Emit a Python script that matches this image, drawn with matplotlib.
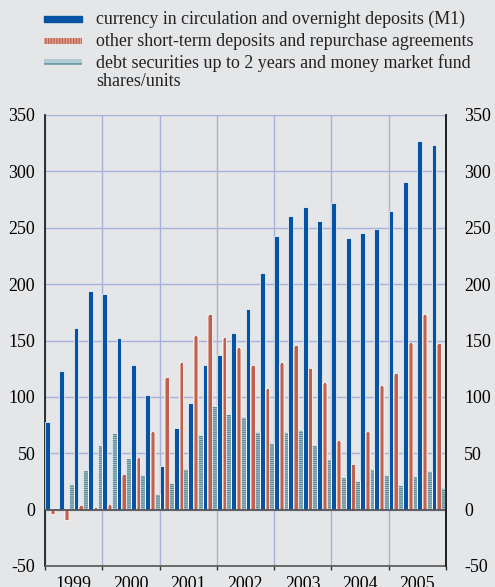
import numpy as np
import matplotlib
matplotlib.use("Agg")
from matplotlib import pyplot as plt
from matplotlib.patches import Rectangle

# === DATA (annual flows, quarterly, EUR billions) ===
YEARS = ["1999", "2000", "2001", "2002", "2003", "2004", "2005"]
M1 = [78, 123, 161, 194, 191, 152, 128, 102, 39, 72, 95, 128, 137, 157,
      178, 210, 243, 260, 268, 256, 272, 241, 245, 249, 265, 291, 327, 323]
OTHER_ST = [-4, -9, 3, 1, 4, 31, 46, 69, 117, 130, 154, 173, 152, 143,
            127, 107, 130, 145, 125, 112, 61, 40, 69, 110, 120, 148, 173, 147]
DEBT_MMF = [0, 23, 35, 57, 68, 46, 31, 14, 24, 36, 66, 92, 85, 82,
            69, 59, 69, 71, 57, 45, 29, 25, 36, 31, 22, 30, 34, 19]
LABELS = ["currency in circulation and overnight deposits (M1)",
          "other short-term deposits and repurchase agreements",
          "debt securities up to 2 years and money market fund\nshares/units"]

# === STYLE ===
BG = "#e5e6e8"
BLUE = "#0652a3"
PINK_LIGHT = "#dea091"
PINK_DARK = "#c0604f"
TEAL_LIGHT = "#b3ccd3"
TEAL_DARK = "#5a8a99"
GRID = "#a7b1d9"
FONT = "Liberation Serif"
FS = 12.9
W, H = 495, 587

plt.rcParams['font.family'] = FONT
plt.rcParams['axes.unicode_minus'] = False
plt.rcParams['hatch.linewidth'] = 0.9

fig = plt.figure(figsize=(W / 100, H / 100), dpi=100, facecolor=BG)
left, right, top, bottom = 45, 446, 115, 566
ax = fig.add_axes([left / W, 1 - bottom / H, (right - left) / W, (bottom - top) / H])
ax.set_facecolor(BG)

x = np.arange(len(M1))
bw = 1 / 3
edge = dict(edgecolor="white", linewidth=0.5)

ax.bar(x, M1, width=bw, align="edge", color=BLUE, zorder=3, **edge)
# pink bars: light left, darker right half
ax.bar(x + bw, OTHER_ST, width=bw, align="edge", color=PINK_LIGHT, zorder=3, **edge)
ax.bar(x + bw * 1.4, OTHER_ST, width=bw * 0.5, align="edge", color=PINK_DARK,
       linewidth=0, zorder=3)
# teal bars: horizontal stripes
ax.bar(x + 2 * bw, DEBT_MMF, width=bw, align="edge", color=TEAL_LIGHT,
       hatch="--------", edgecolor=TEAL_DARK, linewidth=0, zorder=3)
ax.bar(x + 2 * bw, DEBT_MMF, width=bw, align="edge", fill=False, zorder=3, **edge)

ax.set_xlim(0, len(M1))
ax.set_ylim(-50, 350)
ax.set_yticks(range(-50, 351, 50))
ax.axhline(0, color="#555555", lw=1.3, zorder=4)

# year boundaries and labels
ax.set_xticks(np.arange(0, len(M1) + 1, 4))
ax.set_xticklabels([])
ax.set_xticks(np.arange(2, len(M1), 4), minor=True)
ax.set_xticklabels(YEARS, minor=True, fontsize=FS)
ax.tick_params(axis="x", which="major", direction="out", length=3, width=1, color="#333333")
ax.tick_params(axis="x", which="minor", length=0, pad=7)
ax.tick_params(axis="y", length=0, labelsize=FS, pad=7)

ax.grid(True, which="major", color=GRID, lw=1, zorder=0)
ax.set_axisbelow(True)

for s in ["left", "right"]:
    ax.spines[s].set_color("#222222")
    ax.spines[s].set_linewidth(1.3)
ax.spines["bottom"].set_color("#555555")
ax.spines["bottom"].set_linewidth(1.2)
ax.spines["top"].set_visible(False)

ax2 = ax.twinx()
ax2.set_ylim(ax.get_ylim())
ax2.set_yticks(ax.get_yticks())
ax2.tick_params(axis="y", length=0, labelsize=FS, pad=13)
for s in ["left", "top", "bottom"]:
    ax2.spines[s].set_visible(False)
ax2.spines["right"].set_color("#222222")
ax2.spines["right"].set_linewidth(1.3)

# === LEGEND (drawn in figure pixels) ===
def fx(px):
    return px / W

def fy(py):
    return 1 - py / H

ys = [19, 41, 62]
for i, yc in enumerate(ys):
    x0, x1 = 44, 82
    if i == 0:
        fig.patches.append(Rectangle((fx(x0), fy(yc + 3)), fx(x1 - x0), 6 / H,
                                     transform=fig.transFigure, color=BLUE))
    elif i == 1:
        fig.patches.append(Rectangle((fx(x0), fy(yc + 3)), fx(x1 - x0), 6 / H,
                                     transform=fig.transFigure, facecolor=PINK_LIGHT,
                                     hatch="||||||", edgecolor=PINK_DARK, linewidth=0))
    else:
        fig.patches.append(Rectangle((fx(x0), fy(yc + 3)), fx(x1 - x0), 6 / H,
                                     transform=fig.transFigure, facecolor=TEAL_LIGHT,
                                     hatch="---", edgecolor=TEAL_DARK, linewidth=0))
    fig.text(fx(96), fy(yc - 8), LABELS[i], fontsize=FS, va="top", ha="left",
             color="#222222", linespacing=1.05)

fig.savefig("out.png", dpi=100, facecolor=BG)
